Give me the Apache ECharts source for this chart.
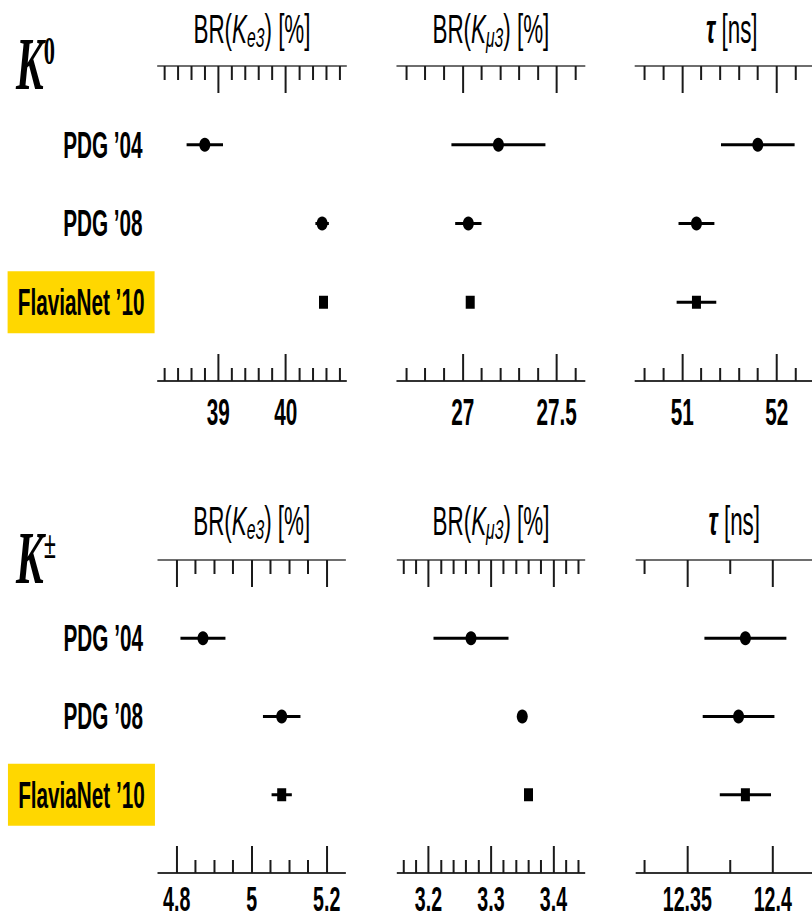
<!DOCTYPE html>
<html><head><meta charset="utf-8">
<script src="https://cdn.jsdelivr.net/npm/echarts@6/dist/echarts.min.js"></script>
<style>html,body{margin:0;padding:0;overflow:hidden;background:#fff;}
#main{height:920px;transform-origin:0 0;}</style>
</head><body><div id="main"></div>
<script>
// ---- data ----
const rowLabels = ['PDG \u201904', 'PDG \u201908', 'FlaviaNet \u201910'];

const k0Ke3 = [38.80, 40.54, 40.56];
const k0Ke3Err = [0.27, 0.10, 0.06];
const k0Km3 = [27.19, 27.03, 27.04];
const k0Km3Err = [0.25, 0.07, 0.02];
const k0Tau = [51.80, 51.15, 51.15];
const k0TauErr = [0.39, 0.19, 0.21];
const kpKe3 = [4.87, 5.08, 5.08];
const kpKe3Err = [0.06, 0.05, 0.027];
const kpKm3 = [3.268, 3.35, 3.36];
const kpKm3Err = [0.06, 0.004, 0.004];
const kpTau = [12.384, 12.380, 12.384];
const kpTauErr = [0.024, 0.021, 0.015];

// ticks and axis ranges
const k0Ke3Range = [38.1, 40.9];
const k0Ke3Major = [39, 40];
const k0Ke3Minor = [38.2, 38.4, 38.6, 38.8, 39.2, 39.4, 39.6, 39.8, 40.2, 40.4, 40.6, 40.8];
const k0Km3Range = [26.65, 27.65];
const k0Km3Major = [27, 27.5];
const k0Km3Minor = [26.7, 26.8, 26.9, 27.1, 27.2, 27.3, 27.4, 27.6];
const k0TauRange = [50.5, 52.55];
const k0TauMajor = [51, 52];
const k0TauMinor = [50.6, 50.8, 51.2, 51.4, 51.6, 51.8, 52.2, 52.4];
const kpKe3Range = [4.75, 5.25];
const kpKe3Major = [4.8, 5, 5.2];
const kpKe3Minor = [4.85, 4.9, 4.95, 5.05, 5.1, 5.15];
const kpKm3Range = [3.15, 3.45];
const kpKm3Major = [3.2, 3.3, 3.4];
const kpKm3Minor = [3.16, 3.18, 3.22, 3.24, 3.26, 3.28, 3.32, 3.34, 3.36, 3.38, 3.42, 3.44];
const kpTauRange = [12.32, 12.435];
const kpTauMajor = [12.35, 12.4];
const kpTauMinor = [12.325, 12.375, 12.425];

const titleE3 = '{n|BR(}{k|K}{s|e3}{n|) [%]}';
const titleM3 = '{n|BR(}{k|K}{s|\u03bc3}{n|) [%]}';
const titleTau = '{t|\u03c4}{n| [ns]}';

// ---- layout ----
const S = 0.56;               // horizontal compression of the whole picture
const px = v => v / S;
const W = 812 / S;
const dom = document.getElementById('main');
dom.style.width = W + 'px';
dom.style.transform = 'scaleX(' + S + ')';

const FONT = '"Liberation Sans", Arial, Helvetica, sans-serif';
const titleRich = {
  n: {fontSize: 40, fontFamily: FONT, color: '#000', lineHeight: 44},
  k: {fontSize: 40, fontFamily: FONT, fontStyle: 'italic', color: '#000', lineHeight: 44},
  s: {fontSize: 28, fontFamily: FONT, fontStyle: 'italic', color: '#000', lineHeight: 26, verticalAlign: 'bottom'},
  t: {fontSize: 40, fontFamily: FONT, fontStyle: 'italic', fontWeight: 'bold', color: '#000', lineHeight: 44}
};

const panels = [
  {vals: k0Ke3, errs: k0Ke3Err, range: k0Ke3Range, major: k0Ke3Major, minor: k0Ke3Minor, name: titleE3, L: 157.6, R: 346.4, top: 66, bottom: 381, gap: 15, lf: 37, lm: 17, labels: true},
  {vals: k0Km3, errs: k0Km3Err, range: k0Km3Range, major: k0Km3Major, minor: k0Km3Minor, name: titleM3, L: 396.9, R: 584.9, top: 66, bottom: 381, gap: 15, lf: 37, lm: 17},
  {vals: k0Tau, errs: k0TauErr, range: k0TauRange, major: k0TauMajor, minor: k0TauMinor, name: titleTau, L: 635.1, R: 828.6, top: 66, bottom: 381, gap: 15, lf: 37, lm: 17},
  {vals: kpKe3, errs: kpKe3Err, range: kpKe3Range, major: kpKe3Major, minor: kpKe3Minor, name: titleE3, L: 157.95, R: 345.45, top: 560, bottom: 873, gap: 17, lf: 35, lm: 11, labels: true},
  {vals: kpKm3, errs: kpKm3Err, range: kpKm3Range, major: kpKm3Major, minor: kpKm3Minor, name: titleM3, L: 397.25, R: 584.75, top: 560, bottom: 873, gap: 17, lf: 35, lm: 11},
  {vals: kpTau, errs: kpTauErr, range: kpTauRange, major: kpTauMajor, minor: kpTauMinor, name: titleTau, L: 636.1, R: 832.5, top: 560, bottom: 873, gap: 17, lf: 35, lm: 11}
];

const grids = [], xAxes = [], yAxes = [], series = [];
const tickStyle = {color: '#1a1a1a', width: px(2)};

panels.forEach((p, gi) => {
  grids.push({left: px(p.L), width: px(p.R - p.L), top: p.top, height: p.bottom - p.top,
              outerBoundsMode: 'none', containLabel: false});
  const base = {type: 'value', gridIndex: gi, min: p.range[0], max: p.range[1],
                splitLine: {show: false}, axisLabel: {show: false}};
  xAxes.push(Object.assign({}, base, {position: 'top',
    axisLine: {show: true, lineStyle: {color: '#6e6e6e', width: 2}},
    axisTick: {show: true, inside: true, length: 14, customValues: p.minor, lineStyle: tickStyle},
    name: p.name, nameLocation: 'middle', nameGap: p.gap,
    nameTextStyle: {rich: titleRich}}));
  xAxes.push(Object.assign({}, base, {position: 'top',
    axisLine: {show: false},
    axisTick: {show: true, inside: true, length: 27, customValues: p.major, lineStyle: tickStyle}}));
  xAxes.push(Object.assign({}, base, {position: 'bottom',
    axisLine: {show: true, lineStyle: {color: '#333', width: 2}},
    axisTick: {show: true, inside: true, length: 13, customValues: p.minor, lineStyle: tickStyle}}));
  xAxes.push(Object.assign({}, base, {position: 'bottom',
    axisLine: {show: false},
    axisTick: {show: true, inside: true, length: 27, customValues: p.major, lineStyle: tickStyle},
    axisLabel: {show: true, customValues: p.major, margin: p.lm, fontSize: p.lf, lineHeight: 29,
                fontWeight: 'bold', fontFamily: FONT, color: '#000'}}));

  yAxes.push({type: 'category', gridIndex: gi, inverse: true, boundaryGap: false,
    data: [''].concat(rowLabels, ['']),
    axisLine: {show: false}, axisTick: {show: false}, splitLine: {show: false},
    axisLabel: p.labels ? {
      show: true, interval: 0, margin: px(3),
      formatter: v => v === '' ? '' : (v === rowLabels[2] ? '{hl|' + v + '}' : '{n|' + v + '}'),
      rich: {
        n: {fontSize: 37, fontWeight: 'bold', fontFamily: FONT, color: '#000', padding: [0, px(12), 0, 0]},
        hl: {fontSize: 37, fontWeight: 'bold', fontFamily: FONT, color: '#000', backgroundColor: '#ffd700',
             width: px(147), height: 62, lineHeight: 62, align: 'center'}
      }
    } : {show: false}
  });

  const xi = gi * 4 + 3;
  series.push({
    type: 'custom', xAxisIndex: xi, yAxisIndex: gi, silent: true,
    data: p.vals.map((v, i) => [v, i + 1, p.errs[i]]),
    encode: {x: 0, y: 1},
    renderItem: (params, api) => {
      const v = api.value(0), y = api.value(1), e = api.value(2);
      const a = api.coord([v - e, y]), b = api.coord([v + e, y]);
      return {type: 'line', shape: {x1: a[0], y1: a[1], x2: b[0], y2: b[1]},
              style: {stroke: '#000', lineWidth: 3}};
    }
  });
  series.push({
    type: 'scatter', xAxisIndex: xi, yAxisIndex: gi, silent: true,
    data: p.vals.map((v, i) => ({
      value: [v, i + 1],
      symbol: i === 2 ? 'rect' : 'circle',
      symbolSize: i === 2 ? [px(9), 13] : [px(11), 14]
    })),
    itemStyle: {color: '#000', opacity: 1}
  });
});

const SERIF = '"Liberation Serif", "Times New Roman", serif';
const kRich = {
  k: {fontSize: 74, fontFamily: SERIF, fontStyle: 'italic', fontWeight: 'bold', color: '#000', lineHeight: 80},
  sup: {fontSize: 40, fontFamily: SERIF, fontWeight: 'bold', color: '#000', lineHeight: 40, verticalAlign: 'top', padding: [6, 0, 0, 0]}
};

const option = {
  animation: false,
  backgroundColor: '#fff',
  title: [
    {left: px(16), top: 24, padding: 0, text: '{k|K}{sup|0}', textStyle: {rich: kRich}},
    {left: px(16), top: 518, padding: 0, text: '{k|K}{sup|\u00b1}', textStyle: {rich: kRich}}
  ],
  grid: grids,
  xAxis: xAxes,
  yAxis: yAxes,
  series: series
};

const chart = echarts.init(dom, null, {renderer: 'svg'});
chart.setOption(option);
</script></body></html>
